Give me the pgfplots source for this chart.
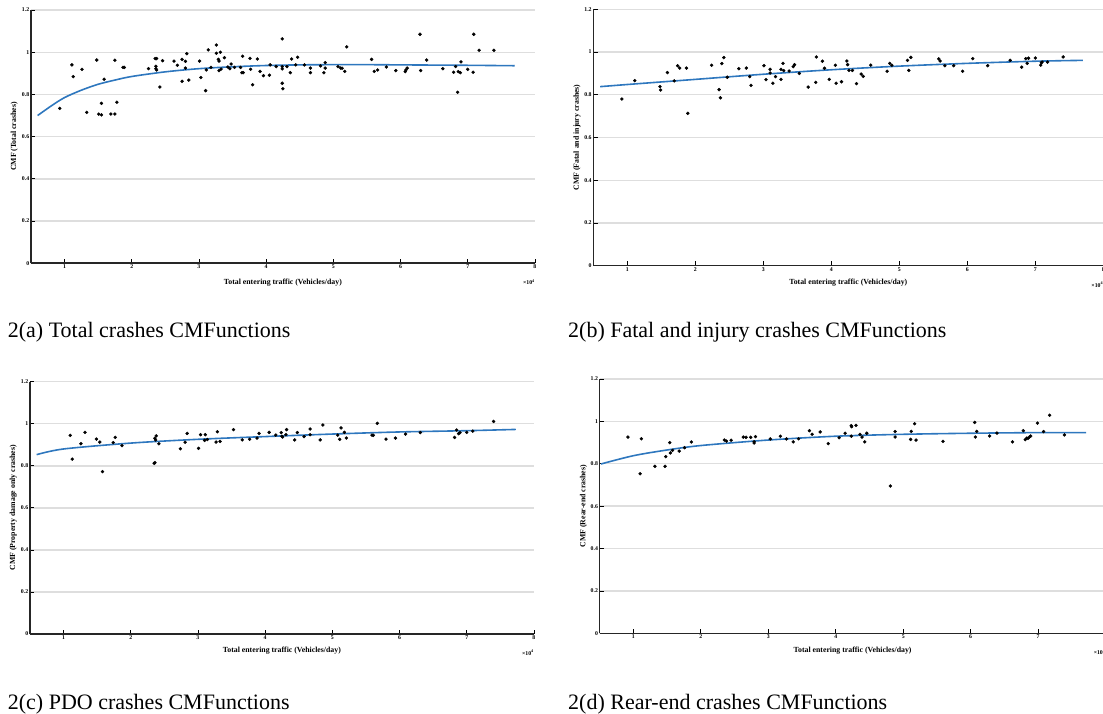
\documentclass[border=0pt]{standalone}
\usepackage{fontspec}
\setmainfont{Liberation Serif}
\usepackage{pgfplots}
\pgfplotsset{compat=1.18}
\definecolor{mblue}{HTML}{2E77BE}
\pgfplotsset{
  cmf/.style={
    scale only axis, anchor=south west, clip=false,
    xmin=0.5, xmax=8, ymin=0, ymax=1.2,
    xtick={1,2,...,8}, ytick={0,0.2,0.4,0.6,0.8,1,1.2},
    axis x line*=bottom, axis y line*=left,
    ymajorgrids, grid style={line width=1.4pt, color=black!13},
    tick align=inside, major tick length=4.5pt,
    tick style={black, line width=0.8pt},
    axis line style={line width=1.6pt, black!85},
    ticklabel style={font=\fontsize{5.8}{6}\selectfont\bfseries, inner sep=1.5pt},
    /pgf/number format/assume math mode=true,
    label style={font=\fontsize{7.8}{8}\selectfont\bfseries},
    xlabel={Total entering traffic (Vehicles/day)},
    xlabel style={at={(axis description cs:0.5,0)}, anchor=center, yshift=-17pt},
    ylabel style={anchor=center, rotate=0},
  },
  pts/.style={only marks, mark=*, mark size=1.5pt, black},
  fit/.style={no marks, color=mblue, line width=1.6pt, smooth},
}
\newcommand{\tenfour}{\node[anchor=north east, font=\fontsize{5.8}{6}\selectfont\bfseries, inner sep=0pt] at (rel axis cs:1,0) [yshift=-16pt] {×10\textsuperscript{4}};}
\begin{document}
\begin{tikzpicture}[x=1pt,y=1pt]
\path[use as bounding box] (0,0) rectangle (1103,713);

% ---------------- (a)
\begin{axis}[cmf, at={(30.9pt,449.7pt)}, width=504pt, height=253.3pt,
  ylabel={CMF (Total crashes)},
  ylabel style={at={(axis description cs:-0.033,0.5)}},
  xlabel style={yshift=-2pt}]
\addplot[pts] coordinates {(0.93,0.734)(1.11,0.94)(1.13,0.884)(1.26,0.919)(1.33,0.715)(1.48,0.963)(1.51,0.707)(1.55,0.703)(1.55,0.758)(1.59,0.872)(1.69,0.707)(1.75,0.707)(1.75,0.962)(1.78,0.763)(1.87,0.928)(1.89,0.928)(2.25,0.922)(2.35,0.97)(2.37,0.97)(2.36,0.933)(2.36,0.922)(2.37,0.916)(2.42,0.835)(2.46,0.96)(2.63,0.958)(2.68,0.938)(2.75,0.966)(2.75,0.862)(2.80,0.957)(2.82,0.993)(2.80,0.925)(2.85,0.868)(3.01,0.958)(3.03,0.88)(3.10,0.818)(3.11,0.916)(3.14,1.011)(3.18,0.928)(3.26,1.034)(3.26,0.995)(3.29,0.966)(3.30,0.958)(3.32,1.0)(3.30,0.913)(3.33,0.92)(3.38,0.974)(3.43,0.93)(3.46,0.922)(3.48,0.944)(3.53,0.928)(3.62,0.928)(3.64,0.903)(3.65,0.981)(3.66,0.903)(3.76,0.971)(3.77,0.919)(3.80,0.846)(3.87,0.968)(3.91,0.909)(3.96,0.889)(4.05,0.891)(4.06,0.94)(4.15,0.932)(4.24,1.063)(4.24,0.932)(4.24,0.921)(4.24,0.853)(4.25,0.827)(4.31,0.932)(4.36,0.903)(4.38,0.968)(4.44,0.94)(4.47,0.976)(4.57,0.94)(4.66,0.925)(4.66,0.903)(4.81,0.935)(4.86,0.903)(4.88,0.951)(4.88,0.925)(5.07,0.932)(5.11,0.925)(5.13,0.924)(5.17,0.909)(5.20,1.025)(5.57,0.966)(5.61,0.909)(5.66,0.916)(5.79,0.93)(5.93,0.913)(6.07,0.908)(6.08,0.916)(6.10,0.925)(6.29,1.085)(6.30,0.913)(6.39,0.963)(6.63,0.922)(6.79,0.905)(6.82,0.932)(6.85,0.81)(6.86,0.908)(6.89,0.903)(6.90,0.954)(7.0,0.919)(7.08,0.905)(7.09,1.085)(7.17,1.009)(7.39,1.009)};
\addplot[fit] coordinates {(0.6,0.70)(0.8,0.745)(1,0.785)(1.25,0.82)(1.5,0.848)(1.75,0.868)(2,0.885)(2.5,0.907)(3,0.922)(3.5,0.931)(4,0.937)(4.5,0.94)(5,0.941)(5.5,0.941)(6,0.940)(6.5,0.939)(7,0.938)(7.7,0.936)};
\tenfour
\end{axis}

% ---------------- (b)
\begin{axis}[cmf, at={(593.3pt,447.3pt)}, width=510pt, height=256.4pt,
  ylabel={CMF (Fatal and injury crashes)},
  ylabel style={at={(axis description cs:-0.032,0.5)}}]
\addplot[pts] coordinates {(0.92,0.780)(1.11,0.866)(1.48,0.838)(1.49,0.822)(1.59,0.904)(1.69,0.865)(1.74,0.936)(1.77,0.925)(1.87,0.925)(1.89,0.713)(2.24,0.938)(2.35,0.824)(2.37,0.786)(2.39,0.946)(2.42,0.974)(2.47,0.882)(2.64,0.922)(2.75,0.925)(2.80,0.885)(2.82,0.844)(3.01,0.936)(3.04,0.871)(3.10,0.902)(3.10,0.919)(3.14,0.854)(3.18,0.885)(3.26,0.872)(3.26,0.919)(3.29,0.947)(3.30,0.913)(3.38,0.911)(3.44,0.932)(3.46,0.941)(3.53,0.900)(3.66,0.836)(3.77,0.858)(3.78,0.977)(3.87,0.957)(3.90,0.924)(3.97,0.872)(4.06,0.938)(4.07,0.854)(4.15,0.861)(4.23,0.958)(4.24,0.941)(4.26,0.914)(4.31,0.914)(4.37,0.852)(4.44,0.897)(4.47,0.886)(4.58,0.939)(4.82,0.910)(4.86,0.947)(4.89,0.938)(5.12,0.961)(5.14,0.914)(5.17,0.975)(5.58,0.968)(5.60,0.958)(5.67,0.936)(5.80,0.936)(5.93,0.910)(6.08,0.969)(6.30,0.936)(6.63,0.961)(6.80,0.929)(6.86,0.969)(6.88,0.947)(6.90,0.971)(7.0,0.972)(7.08,0.939)(7.09,0.950)(7.10,0.953)(7.18,0.953)(7.41,0.977)};
\addplot[fit] coordinates {(0.6,0.838)(1,0.848)(2,0.872)(3,0.896)(4,0.917)(5,0.934)(6,0.947)(7,0.957)(7.7,0.961)};
\tenfour
\end{axis}

% ---------------- (c)
\begin{axis}[cmf, at={(29.9pt,79pt)}, width=504pt, height=252.3pt,
  ylabel={CMF (Property damage only crashes)},
  ylabel style={at={(axis description cs:-0.033,0.5)}}]
\addplot[pts] coordinates {(1.10,0.945)(1.13,0.832)(1.26,0.905)(1.32,0.959)(1.49,0.927)(1.54,0.913)(1.58,0.772)(1.74,0.910)(1.77,0.935)(1.87,0.896)(2.35,0.812)(2.36,0.815)(2.36,0.931)(2.38,0.942)(2.37,0.923)(2.42,0.905)(2.74,0.881)(2.81,0.912)(2.84,0.954)(3.01,0.883)(3.04,0.948)(3.10,0.921)(3.11,0.948)(3.14,0.925)(3.27,0.913)(3.29,0.962)(3.33,0.916)(3.53,0.972)(3.66,0.923)(3.77,0.926)(3.88,0.932)(3.91,0.954)(4.06,0.959)(4.16,0.946)(4.24,0.958)(4.25,0.940)(4.26,0.937)(4.31,0.948)(4.32,0.972)(4.44,0.923)(4.48,0.958)(4.58,0.939)(4.67,0.975)(4.67,0.948)(4.82,0.923)(4.86,0.994)(5.08,0.946)(5.11,0.926)(5.13,0.980)(5.18,0.959)(5.21,0.932)(5.59,0.946)(5.61,0.945)(5.67,1.002)(5.80,0.927)(5.94,0.932)(6.09,0.951)(6.31,0.958)(6.82,0.935)(6.85,0.970)(6.88,0.953)(6.90,0.958)(7.0,0.959)(7.09,0.965)(7.40,1.011)};
\addplot[fit] coordinates {(0.6,0.853)(1,0.880)(2,0.908)(3,0.926)(4,0.939)(5,0.951)(6,0.961)(7,0.967)(7.73,0.973)};
\tenfour
\end{axis}

% ---------------- (d)
\begin{axis}[cmf, at={(599.6pt,79.7pt)}, width=506pt, height=254.3pt,
  ylabel={CMF (Rear-end crashes)},
  ylabel style={at={(axis description cs:-0.032,0.5)}}]
\addplot[pts] coordinates {(0.92,0.926)(1.10,0.753)(1.12,0.918)(1.32,0.788)(1.47,0.788)(1.48,0.834)(1.54,0.900)(1.55,0.851)(1.58,0.863)(1.68,0.860)(1.76,0.876)(1.86,0.903)(2.35,0.912)(2.38,0.907)(2.45,0.911)(2.63,0.926)(2.67,0.925)(2.74,0.925)(2.79,0.904)(2.79,0.898)(2.81,0.928)(3.03,0.917)(3.18,0.930)(3.27,0.917)(3.37,0.903)(3.45,0.918)(3.61,0.956)(3.65,0.939)(3.77,0.950)(3.89,0.895)(4.05,0.923)(4.14,0.944)(4.23,0.980)(4.235,0.975)(4.23,0.930)(4.30,0.981)(4.36,0.939)(4.39,0.926)(4.43,0.903)(4.46,0.944)(4.81,0.695)(4.88,0.952)(4.88,0.926)(5.11,0.915)(5.12,0.953)(5.17,0.989)(5.19,0.912)(5.59,0.906)(6.06,0.995)(6.07,0.926)(6.09,0.953)(6.28,0.931)(6.39,0.945)(6.62,0.903)(6.78,0.956)(6.81,0.914)(6.83,0.921)(6.85,0.920)(6.87,0.926)(6.89,0.931)(6.99,0.992)(7.08,0.952)(7.17,1.029)(7.39,0.936)};
\addplot[fit] coordinates {(0.52,0.799)(1,0.838)(1.5,0.865)(2,0.886)(3,0.912)(4,0.930)(5,0.939)(6,0.944)(7,0.947)(7.71,0.947)};
\tenfour
\end{axis}

% captions
\node[anchor=base west, inner sep=0pt, font=\fontsize{22}{26}\selectfont] at (7.7,375) {2(a) Total crashes CMFunctions};
\node[anchor=base west, inner sep=0pt, font=\fontsize{22}{26}\selectfont] at (568,375) {2(b) Fatal and injury crashes CMFunctions};
\node[anchor=base west, inner sep=0pt, font=\fontsize{22}{26}\selectfont] at (7.7,4) {2(c) PDO crashes CMFunctions};
\node[anchor=base west, inner sep=0pt, font=\fontsize{22}{26}\selectfont] at (568,4) {2(d) Rear-end crashes CMFunctions};
\end{tikzpicture}
\end{document}
